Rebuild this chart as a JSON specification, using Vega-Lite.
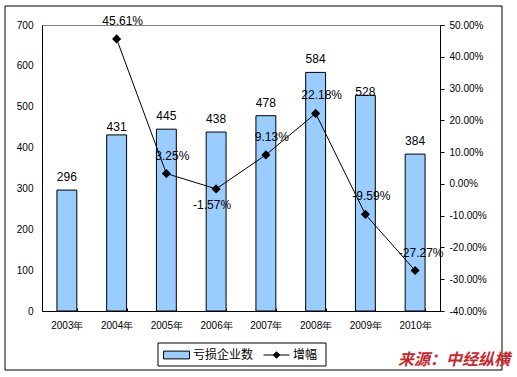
{
  "$schema": "https://vega.github.io/schema/vega-lite/v6.json",
  "width": 398,
  "height": 286,
  "autosize": {"type": "none"},
  "padding": {"left": 42, "top": 25, "right": 77, "bottom": 66},
  "background": "white",
  "config": {
    "view": {"stroke": "#808080", "strokeWidth": 1},
    "font": "Liberation Sans",
    "locale": {"number": {"decimal": ".", "thousands": ",", "grouping": [3], "currency": ["$", ""], "minus": "-"}},
    "axis": {
      "grid": false,
      "domainColor": "black",
      "tickColor": "black",
      "labelColor": "black",
      "labelFont": "Liberation Sans",
      "labelFontSize": 10,
      "labelOverlap": false,
      "title": null
    },
    "legend": {
      "title": null,
      "orient": "none",
      "direction": "horizontal",
      "padding": 0,
      "symbolSize": 676,
      "labelFontSize": 12,
      "labelFont": "Noto Sans CJK SC",
      "labelColor": "black",
      "labelOffset": 3,
      "symbolStrokeColor": "black",
      "symbolStrokeWidth": 1,
      "symbolOpacity": 1
    }
  },
  "title": {
    "text": "来源：中经纵横",
    "orient": "bottom",
    "anchor": "end",
    "frame": "group",
    "font": "Noto Sans CJK SC",
    "fontSize": 16,
    "fontWeight": "bold",
    "fontStyle": "italic",
    "color": "#C8282D",
    "dx": 70,
    "dy": -19,
    "offset": 0
  },
  "data": {
    "values": [
      {"year": "2003年", "count": 296, "growth": null},
      {"year": "2004年", "count": 431, "growth": 0.4561},
      {"year": "2005年", "count": 445, "growth": 0.0325},
      {"year": "2006年", "count": 438, "growth": -0.0157},
      {"year": "2007年", "count": 478, "growth": 0.0913},
      {"year": "2008年", "count": 584, "growth": 0.2218},
      {"year": "2009年", "count": 528, "growth": -0.0959},
      {"year": "2010年", "count": 384, "growth": -0.2727}
    ]
  },
  "encoding": {
    "x": {
      "field": "year",
      "type": "nominal",
      "sort": null,
      "scale": {"paddingInner": 0.6, "paddingOuter": 0.3},
      "axis": {
        "labelAngle": 0,
        "tickBand": "extent",
        "tickSize": -3,
        "labelPadding": 12,
        "labelFontSize": 10,
        "labelFont": "Liberation Sans"
      }
    }
  },
  "layer": [
    {
      "data": {"values": [{"frame": 1}]},
      "mark": {"type": "rect", "fill": "white", "stroke": "black", "strokeWidth": 1},
      "encoding": {
        "x": {"value": 116},
        "x2": {"value": 284},
        "y": {"value": 318},
        "y2": {"value": 341}
      }
    },
    {
      "encoding": {
        "y": {
          "field": "count",
          "type": "quantitative",
          "scale": {"domain": [0, 700]},
          "axis": {"orient": "left", "values": [0, 100, 200, 300, 400, 500, 600, 700], "ticks": false, "labelPadding": 9}
        }
      },
      "layer": [
        {
          "mark": {"type": "bar", "stroke": "black", "strokeWidth": 1},
          "encoding": {
            "fill": {
              "datum": "亏损企业数",
              "scale": {"range": ["#99CCFF"]},
              "legend": {
                "legendX": 121,
                "legendY": 316.5,
                "symbolType": "M-1,-0.3L1,-0.3L1,0.3L-1,0.3Z",
                "symbolFillColor": "#99CCFF"
              }
            }
          }
        },
        {
          "transform": [{"filter": "datum.count != 431 && datum.count != 528"}],
          "mark": {"type": "text", "baseline": "middle", "dy": -13, "fontSize": 12, "font": "Liberation Sans", "color": "black"},
          "encoding": {"text": {"field": "count", "type": "quantitative"}}
        },
        {
          "transform": [{"filter": "datum.count == 431"}],
          "mark": {"type": "text", "baseline": "middle", "dy": -8, "fontSize": 12, "font": "Liberation Sans", "color": "black"},
          "encoding": {"text": {"field": "count", "type": "quantitative"}}
        },
        {
          "transform": [{"filter": "datum.count == 528"}],
          "mark": {"type": "text", "baseline": "middle", "dy": -3, "fontSize": 12, "font": "Liberation Sans", "color": "black"},
          "encoding": {"text": {"field": "count", "type": "quantitative"}}
        }
      ]
    },
    {
      "transform": [{"filter": "datum.growth != null"}],
      "encoding": {
        "y": {
          "field": "growth",
          "type": "quantitative",
          "scale": {"domain": [-0.4, 0.5]},
          "axis": {"orient": "right", "format": ".2%", "values": [-0.4, -0.3, -0.2, -0.1, 0, 0.1, 0.2, 0.3, 0.4, 0.5], "tickSize": 4, "labelPadding": 5, "labelFlush": false}
        }
      },
      "layer": [
        {
          "mark": {"type": "line", "strokeWidth": 1, "point": {"filled": true, "shape": "diamond", "size": 40, "color": "black"}},
          "encoding": {
            "stroke": {
              "datum": "增幅",
              "scale": {"range": ["black"]},
              "legend": {
                "legendX": 221,
                "legendY": 316.5,
                "symbolType": "M-1,0L1,0M0,-0.25L0.25,0L0,0.25L-0.25,0Z",
                "symbolFillColor": "black"
              }
            }
          }
        },
        {
          "transform": [{"filter": "datum.growth != -0.0157"}],
          "mark": {"type": "text", "baseline": "middle", "dy": -18, "dx": 6, "fontSize": 12, "font": "Liberation Sans", "color": "black"},
          "encoding": {"text": {"field": "growth", "type": "quantitative", "format": ".2%"}}
        },
        {
          "transform": [{"filter": "datum.growth == -0.0157"}],
          "mark": {"type": "text", "baseline": "middle", "dy": 16, "dx": -4, "fontSize": 12, "font": "Liberation Sans", "color": "black"},
          "encoding": {"text": {"field": "growth", "type": "quantitative", "format": ".2%"}}
        }
      ]
    },
    {
      "data": {"values": [{"frame": 1}]},
      "mark": {"type": "rect", "fill": null, "stroke": "black", "strokeWidth": 1},
      "encoding": {
        "x": {"value": -37},
        "x2": {"value": 460},
        "y": {"value": -19},
        "y2": {"value": 345}
      }
    }
  ],
  "resolve": {"scale": {"y": "independent"}}
}
